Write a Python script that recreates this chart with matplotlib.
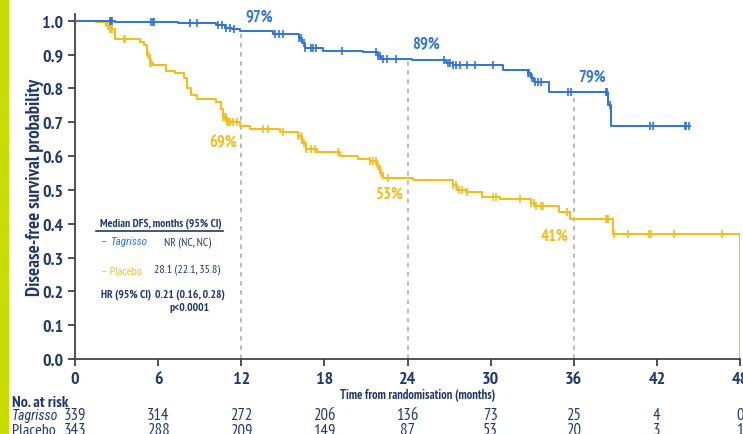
import numpy as np
import matplotlib.pyplot as plt

# --- data ---
tag_t = [0, 2.9, 7.4, 10.2, 10.8, 11.3, 11.9, 14.3, 16.2, 16.4, 16.6, 17.9, 20.8,
         21.9, 22.1, 24.3, 26.8, 27.3, 27.8, 30.9, 32.7, 32.9, 33.1, 34.2, 38.5, 38.7, 44.4]
tag_s = [1.0, 0.997, 0.992, 0.988, 0.98, 0.975, 0.969, 0.961, 0.95, 0.935, 0.92, 0.911, 0.907,
         0.897, 0.888, 0.885, 0.875, 0.870, 0.868, 0.856, 0.845, 0.83, 0.82, 0.79, 0.75, 0.69, 0.69]
tag_cens = [2.5, 2.6, 2.7, 5.5, 5.6, 5.7, 8.3, 8.8, 10.3, 10.6, 10.9, 11.2, 11.5,
            14.4, 14.7, 15.0, 16.2, 16.3, 16.5, 16.6, 17.0, 17.2, 17.4, 19.3,
            21.7, 21.9, 22.0, 22.2, 22.5, 23.2, 26.6, 26.9, 27.1, 27.3, 27.5, 27.8, 28.3, 28.9,
            30.2, 32.7, 32.8, 33.0, 33.2, 33.4, 33.6, 35.6, 35.8, 38.3, 38.4, 38.6,
            41.5, 41.7, 44.0, 44.1, 44.3]

pla_t = [0, 1.5, 2.2, 2.5, 2.9, 4.7, 5.0, 5.2, 5.4, 5.6, 6.6, 7.2, 7.9, 8.1, 8.4, 8.8,
         10.2, 10.5, 10.7, 11.0, 11.9, 12.6, 14.8, 16.1, 16.4, 16.7, 17.5, 19.1, 20.4, 21.3,
         21.8, 22.0, 22.2, 24.4, 27.3, 27.6, 28.2, 29.4, 30.7, 32.9, 33.2, 34.9, 35.7, 38.8, 48.0]
pla_s = [1.0, 0.995, 0.985, 0.975, 0.947, 0.937, 0.927, 0.90, 0.875, 0.868, 0.852, 0.845,
         0.83, 0.80, 0.78, 0.77, 0.76, 0.74, 0.715, 0.70, 0.69, 0.68, 0.672, 0.66, 0.64, 0.62,
         0.612, 0.60, 0.592, 0.585, 0.57, 0.55, 0.536, 0.53, 0.515, 0.50, 0.494, 0.479, 0.473,
         0.462, 0.453, 0.435, 0.414, 0.37, 0.0]
pla_cens = [2.4, 2.5, 2.6, 2.7, 3.5, 3.6, 5.3, 5.4, 5.5, 10.7, 10.8, 10.9, 11.0, 11.1, 11.2,
            11.4, 11.7, 13.6, 13.9, 15.0, 16.1, 16.3, 16.5, 16.7, 17.0, 17.3, 19.0,
            21.3, 21.5, 21.7, 21.9, 22.1, 22.6, 27.3, 27.5, 27.7, 27.9, 28.3, 30.2, 30.4,
            32.1, 32.9, 33.1, 33.3, 33.6, 33.8, 35.5, 38.3, 38.4, 38.5, 38.9, 39.9,
            41.4, 41.6, 43.2, 46.7]

landmarks = [12, 24, 36]
tag_pct = ['97%', '89%', '79%']
pla_pct = ['69%', '53%', '41%']

xticks = [0, 6, 12, 18, 24, 30, 36, 42, 48]
risk_tag = [339, 314, 272, 206, 136, 73, 25, 4, 0]
risk_pla = [343, 288, 209, 149, 87, 53, 20, 3, 1]

BLUE = '#2f74d8'
GOLD = '#f4bd1a'
NAVY = '#1f3a6b'

plt.rcParams['font.family'] = ['PT Sans Narrow', 'Roboto Condensed', 'Liberation Sans', 'DejaVu Sans']
ITAL = ['Roboto Condensed', 'PT Sans Narrow', 'DejaVu Sans']


def step_value(t, s, x):
    i = np.searchsorted(np.array(t), x, side='right') - 1
    return np.array(s)[i]


def main():
    fig = plt.figure(figsize=(7.43, 4.35), dpi=100)
    fig.patch.set_facecolor('white')
    # lime bar on the left edge
    fig.patches.append(plt.Rectangle((0, 0), 0.011, 1, transform=fig.transFigure,
                                     color='#c8dc00', zorder=0))
    ax = fig.add_axes([0.101, 0.172, 0.895, 0.7935])

    for x in landmarks:
        ax.plot([x, x], [0, step_value(tag_t, tag_s, x)], ls=(0, (3, 3)), color='#a8a8a8', lw=1.1, zorder=1)

    ax.step(tag_t, tag_s, where='post', color=BLUE, lw=1.4, zorder=3)
    ax.step(pla_t, pla_s, where='post', color=GOLD, lw=1.5, zorder=2)
    ax.plot(tag_cens, step_value(tag_t, tag_s, np.array(tag_cens)), ls='none', marker='|',
            ms=6, mew=1.2, color=BLUE, zorder=3)
    ax.plot(pla_cens, step_value(pla_t, pla_s, np.array(pla_cens)), ls='none', marker='|',
            ms=6, mew=1.2, color=GOLD, zorder=2)

    # landmark percentages
    for x, txt in zip(landmarks, tag_pct):
        ax.text(x + 0.3, step_value(tag_t, tag_s, x) + 0.045, txt, color=BLUE, fontsize=12,
                fontweight='bold', ha='left', va='center')
    for x, txt in zip(landmarks, pla_pct):
        ax.text(x - 0.35, step_value(pla_t, pla_s, x) - 0.048, txt, color=GOLD, fontsize=12,
                fontweight='bold', ha='right', va='center')

    ax.set_xlim(0, 48)
    ax.set_ylim(0, 1.02)
    ax.set_xticks(xticks)
    ax.set_yticks(np.arange(0, 1.01, 0.1))
    ax.set_yticklabels(['%.1f' % v for v in np.arange(0, 1.01, 0.1)])
    ax.tick_params(axis='both', direction='out', length=5, width=1.2, color='#333333',
                   labelcolor=NAVY, labelsize=13)
    for lab in ax.get_xticklabels() + ax.get_yticklabels():
        lab.set_fontweight('bold')
    for side in ['top', 'right']:
        ax.spines[side].set_visible(False)
    for side in ['left', 'bottom']:
        ax.spines[side].set_color('#444444')
        ax.spines[side].set_linewidth(1.3)

    ax.set_ylabel('Disease-free survival probability', color=NAVY, fontsize=13.5,
                  fontweight='bold', labelpad=-1)
    ax.text(24.7, -0.104, 'Time from randomisation (months)', color=NAVY, fontsize=9,
            fontweight='bold', ha='center', va='center')

    # median DFS box
    ax.text(6.2, 0.405, 'Median DFS, months (95% CI)', color=NAVY, fontsize=8.3,
            fontweight='bold', ha='center', va='center')
    ax.plot([1.5, 10.7], [0.379, 0.379], color=NAVY, lw=1.2)
    ax.text(1.85, 0.349, '–', color=BLUE, fontsize=8.5, ha='left', va='center')
    ax.text(2.5, 0.349, 'Tagrisso', color=BLUE, fontsize=8, style='italic', family=ITAL,
            ha='left', va='center')
    ax.text(8.1, 0.349, 'NR (NC, NC)', color=NAVY, fontsize=8.5, ha='center', va='center')
    ax.text(1.85, 0.260, '– Placebo', color=GOLD, fontsize=8.5, ha='left', va='center')
    ax.text(8.1, 0.269, '28.1 (22.1, 35.8)', color=NAVY, fontsize=8.5, ha='center', va='center')
    ax.text(1.85, 0.195, 'HR (95% CI)', color=NAVY, fontsize=8.3, fontweight='bold', ha='left', va='center')
    ax.text(8.3, 0.195, '0.21 (0.16, 0.28)', color=NAVY, fontsize=8.3, fontweight='bold',
            ha='center', va='center')
    ax.text(8.3, 0.154, 'p<0.0001', color=NAVY, fontsize=8.3, fontweight='bold', ha='center', va='center')

    # number at risk table
    fig.text(12 / 743, 1 - 403 / 435, 'No. at risk', color=NAVY, fontsize=11.5,
             fontweight='bold', ha='left', va='center')
    fig.text(12 / 743, 1 - 416 / 435, 'Tagrisso', color=NAVY, fontsize=10,
             style='italic', family=ITAL, ha='left', va='center')
    fig.text(12 / 743, 1 - 431 / 435, 'Placebo', color=NAVY, fontsize=11.5, ha='left', va='center')
    tr = ax.get_xaxis_transform()
    for x, a, b in zip(xticks, risk_tag, risk_pla):
        ax.text(x, -0.162, str(a), transform=tr, color=NAVY, fontsize=12, ha='center',
                va='center', clip_on=False)
        ax.text(x, -0.206, str(b), transform=tr, color=NAVY, fontsize=12, ha='center',
                va='center', clip_on=False)

    fig.savefig('out.png', dpi=100)


if __name__ == '__main__':
    main()
